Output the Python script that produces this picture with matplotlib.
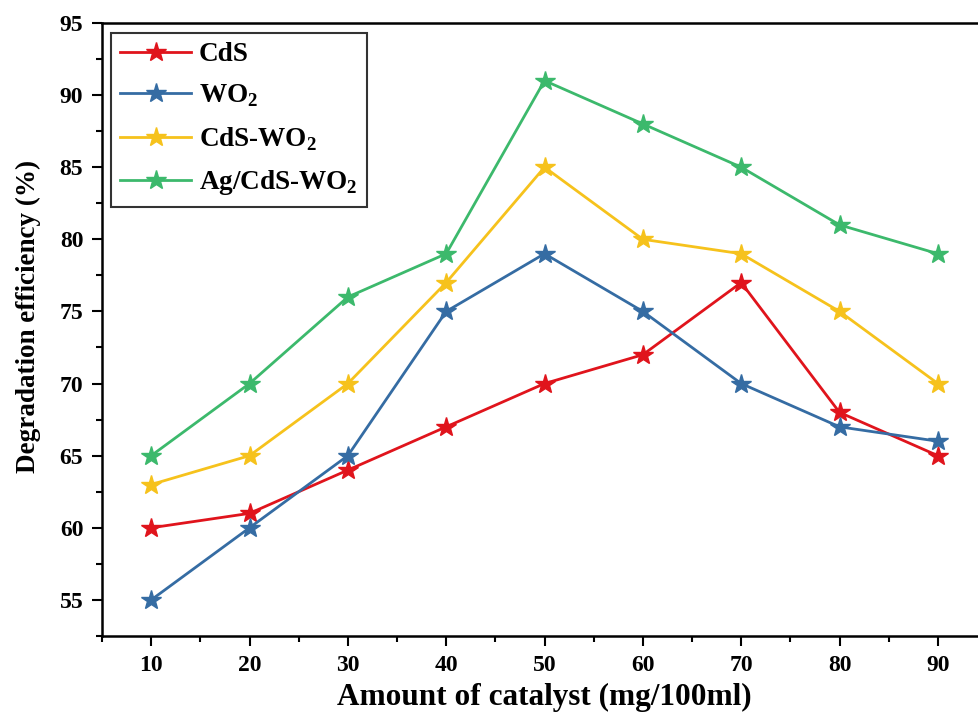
import matplotlib.pyplot as plt
from matplotlib.ticker import MultipleLocator

amount = [10, 20, 30, 40, 50, 60, 70, 80, 90]
cds = [60, 61, 64, 67, 70, 72, 77, 68, 65]
wo2 = [55, 60, 65, 75, 79, 75, 70, 67, 66]
cds_wo2 = [63, 65, 70, 77, 85, 80, 79, 75, 70]
ag_cds_wo2 = [65, 70, 76, 79, 91, 88, 85, 81, 79]

labels = ['CdS', r'WO$_\mathbf{2}$', r'CdS-WO$_\mathbf{2}$', r'Ag/CdS-WO$_\mathbf{2}$']
colors = ['#e0141c', '#356ca3', '#f6c21c', '#3cb96c']

plt.rcParams['font.family'] = 'Liberation Serif'
plt.rcParams['font.weight'] = 'bold'
plt.rcParams['mathtext.fontset'] = 'custom'
plt.rcParams['mathtext.rm'] = 'Liberation Serif:bold'
plt.rcParams['mathtext.bf'] = 'Liberation Serif:bold'

fig = plt.figure(figsize=(9.79, 7.17), dpi=100)
ax = fig.add_axes([0.1042, 0.113, 0.904, 0.855])

for series, lab, col in zip([cds, wo2, cds_wo2, ag_cds_wo2], labels, colors):
  ax.plot(amount, series, color=col, linewidth=2, marker='*', markersize=15,
          label=lab)

ax.set_xlim(5, 95)
ax.set_ylim(52.5, 95)
ax.xaxis.set_major_locator(MultipleLocator(10))
ax.xaxis.set_minor_locator(MultipleLocator(5))
ax.yaxis.set_major_locator(MultipleLocator(5))
ax.yaxis.set_minor_locator(MultipleLocator(2.5))
ax.tick_params(which='major', direction='out', length=7.5, width=1.5, labelsize=17)
ax.tick_params(which='minor', direction='out', length=4, width=1.5)
ax.tick_params(axis='x', which='major', pad=6)
ax.tick_params(axis='y', which='major', pad=6)
for lbl in ax.get_xticklabels() + ax.get_yticklabels():
  lbl.set_fontweight('bold')

for s in ['left', 'bottom', 'top']:
  ax.spines[s].set_linewidth(1.8)
ax.spines['right'].set_visible(False)

ax.set_xlabel('Amount of catalyst (mg/100ml)', fontsize=22.5, fontweight='bold', labelpad=5)
ax.set_ylabel('Degradation efficiency (%)', fontsize=19.5, fontweight='bold')
ax.yaxis.set_label_coords(-0.069, 0.522)

leg = ax.legend(loc='upper left', bbox_to_anchor=(0.010, 0.984), fontsize=19.5,
                frameon=True, fancybox=False, edgecolor='black', handlelength=2.6,
                handletextpad=0.3, labelspacing=0.58, borderpad=0.35,
                borderaxespad=0)
leg.get_frame().set_linewidth(1.5)

fig.savefig('out.png', dpi=100)
